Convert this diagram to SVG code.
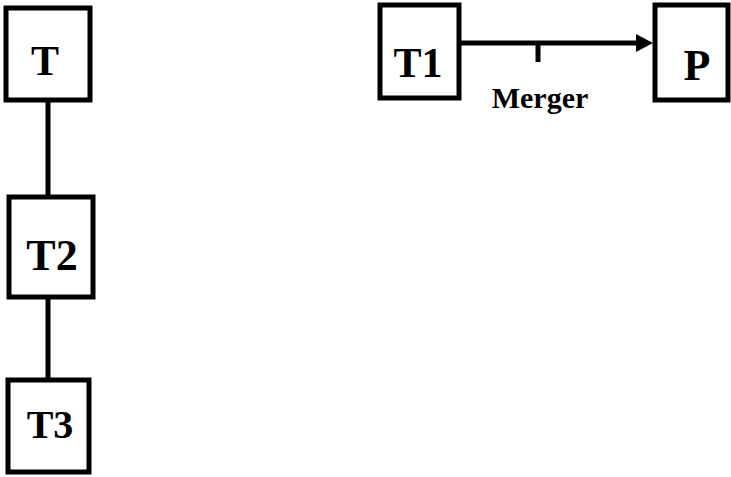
<svg xmlns="http://www.w3.org/2000/svg" width="731" height="477" viewBox="0 0 731 477">
<style>
.box{fill:#fff;stroke:#000;stroke-width:5}
.lbl{font-family:"Liberation Serif","Times New Roman",serif;font-weight:bold;fill:#000;text-anchor:middle}
.conn{stroke:#000;stroke-width:5;fill:none}
</style>
<rect width="731" height="477" fill="#fff"/>
<g id="connectors">
<line class="conn" x1="48" y1="102" x2="48" y2="197"/>
<line class="conn" x1="48" y1="299" x2="48" y2="380"/>
<line class="conn" x1="461" y1="43" x2="640" y2="43"/>
<polygon points="636,34 653,43 636,52" fill="#000"/>
<line class="conn" x1="538" y1="43" x2="538" y2="62"/>
<text class="lbl" x="540" y="108" font-size="30">Merger</text>
</g>
<g id="T"><rect class="box" x="6" y="8" width="84" height="92"/><text class="lbl" x="45" y="75" font-size="42">T</text></g>
<g id="T2"><rect class="box" x="9" y="197" width="84" height="100"/><text class="lbl" x="52" y="270" font-size="44">T2</text></g>
<g id="T3"><rect class="box" x="8" y="380" width="81" height="92"/><text class="lbl" x="50" y="438" font-size="40">T3</text></g>
<g id="T1"><rect class="box" x="380" y="5" width="79" height="93"/><text class="lbl" x="418" y="77" font-size="42">T1</text></g>
<g id="P"><rect class="box" x="655" y="5" width="73" height="95"/><text class="lbl" x="697" y="80" font-size="44">P</text></g>
</svg>
